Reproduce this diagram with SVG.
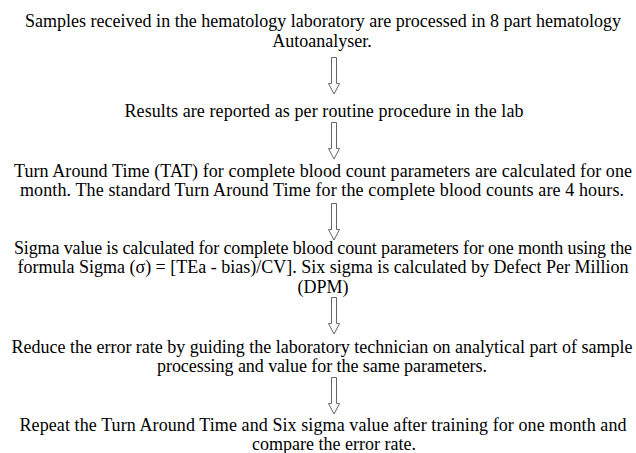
<svg xmlns="http://www.w3.org/2000/svg" width="636" height="453" viewBox="0 0 636 453">
<style>
.t{font-family:'Liberation Serif',serif;font-size:18px;fill:#000;text-anchor:middle}
.arr{fill:#fff;stroke:#666;stroke-width:1}
</style>
<rect width="636" height="453" fill="#fff"/>
<g id="n1"><text class="t" x="323" y="27" textLength="596">Samples received in the hematology laboratory are processed in 8 part hematology</text><text class="t" x="322" y="47">Autoanalyser.</text></g>
<g id="n2"><text class="t" x="324" y="117" textLength="399">Results are reported as per routine procedure in the lab</text></g>
<g id="n3"><text class="t" x="323" y="177" textLength="618">Turn Around Time (TAT) for complete blood count parameters are calculated for one</text><text class="t" x="322" y="196" textLength="604">month. The standard Turn Around Time for the complete blood counts are 4 hours.</text></g>
<g id="n4"><text class="t" x="323" y="254" textLength="618">Sigma value is calculated for complete blood count parameters for one month using the</text><text class="t" x="323" y="273" textLength="611">formula Sigma (&#963;) = [TEa - bias)/CV]. Six sigma is calculated by Defect Per Million</text><text class="t" x="323" y="293">(DPM)</text></g>
<g id="n5"><text class="t" x="322" y="353" textLength="621">Reduce the error rate by guiding the laboratory technician on analytical part of sample</text><text class="t" x="322" y="372" textLength="330">processing and value for the same parameters.</text></g>
<g id="n6"><text class="t" x="323" y="431" textLength="607">Repeat the Turn Around Time and Six sigma value after training for one month and</text><text class="t" x="334" y="450">compare the error rate.</text></g>
<g id="connectors">
<path class="arr" d="M331.5 57.5h5v26h3l-5.5 10.5l-5.5-10.5h3z"/>
<path class="arr" d="M331.5 122.5h5v26h3l-5.5 10.5l-5.5-10.5h3z"/>
<path class="arr" d="M331.5 203.5h5v26h3l-5.5 10.5l-5.5-10.5h3z"/>
<path class="arr" d="M331.5 297.5h5v26h3l-5.5 10.5l-5.5-10.5h3z"/>
<path class="arr" d="M331.5 377.5h5v26h3l-5.5 10.5l-5.5-10.5h3z"/>
</g>
</svg>
